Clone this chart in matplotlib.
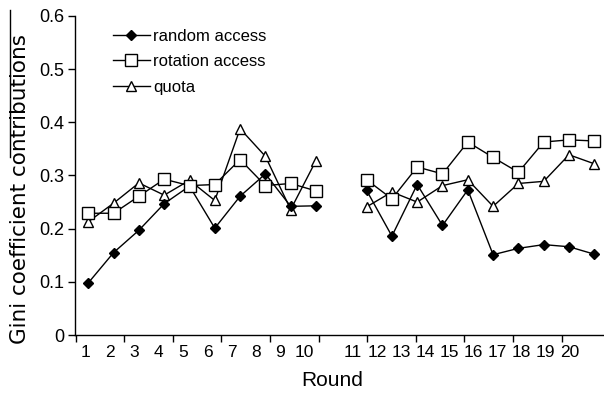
import matplotlib
matplotlib.use("Agg")
import matplotlib.pyplot as plt
from matplotlib.lines import Line2D
from matplotlib import font_manager

rounds = list(range(1, 21))
random_access = [0.098, 0.155, 0.197, 0.247, 0.280, 0.201, 0.261, 0.303, 0.242, 0.243,
                 0.272, 0.186, 0.283, 0.206, 0.273, 0.151, 0.163, 0.170, 0.166, 0.152]
rotation_access = [0.229, 0.229, 0.261, 0.293, 0.281, 0.283, 0.330, 0.281, 0.285, 0.271,
                   0.292, 0.256, 0.316, 0.303, 0.363, 0.334, 0.306, 0.363, 0.367, 0.365]
quota = [0.213, 0.248, 0.286, 0.263, 0.291, 0.253, 0.388, 0.336, 0.236, 0.328,
         0.241, 0.269, 0.250, 0.281, 0.292, 0.242, 0.285, 0.289, 0.339, 0.322]
series_labels = ["random access", "rotation access", "quota"]
y_ticks = [0, 0.1, 0.2, 0.3, 0.4, 0.5, 0.6]
y_tick_labels = ["0", "0.1", "0.2", "0.3", "0.4", "0.5", "0.6"]

names = {f.name for f in font_manager.fontManager.ttflist}
narrow = "Liberation Sans Narrow" if "Liberation Sans Narrow" in names else "Liberation Sans"
plt.rcParams["font.family"] = [narrow, "DejaVu Sans"]

W, H = 604, 395
fig = plt.figure(figsize=(W / 100, H / 100), dpi=100)
ax_l, ax_r, ax_b, ax_t = 75, 603, 335, 16
ax = fig.add_axes([ax_l / W, 1 - ax_b / H, (ax_r - ax_l) / W, (ax_b - ax_t) / H])

# slot positions: rounds 1-10 -> 1..10, gap, rounds 11-20 -> 12..21
xpos = [r if r <= 10 else r + 1 for r in rounds]
p0, step = 88.3, 25.3  # pixel of slot 1, pixel per slot
def px2s(p):
    return 1 + (p - p0) / step

ax.set_xlim(px2s(ax_l), px2s(ax_r))
ax.set_ylim(0, 0.6)

first = slice(0, 10)
second = slice(10, 20)
styles = [
    dict(marker="D", markersize=5.5, markerfacecolor="black", markeredgecolor="black"),
    dict(marker="s", markersize=8, markerfacecolor="white", markeredgecolor="black", markeredgewidth=1.0),
    dict(marker="^", markersize=7, markerfacecolor="white", markeredgecolor="black", markeredgewidth=1.0),
]
data = [random_access, rotation_access, quota]
zs = [3, 4, 2]
for vals, st, lab, z in zip(data, styles, series_labels, zs):
    for sl in (first, second):
        ax.plot(xpos[sl], vals[sl], color="black", linewidth=1.0, zorder=z, clip_on=False, **st)

# legend
handles = [Line2D([], [], color="black", linewidth=1.0, **st) for st in styles]
leg = ax.legend(handles, series_labels, loc="upper left",
                bbox_to_anchor=(113 / W, 1 - 29 / H), bbox_transform=fig.transFigure,
                frameon=False, fontsize=12, handlelength=2.2, handletextpad=0.2,
                labelspacing=0.62, borderpad=0, borderaxespad=0)

# axes styling
for s in ("top", "right"):
    ax.spines[s].set_visible(False)
ax.spines["left"].set_linewidth(1.0)
ax.spines["bottom"].set_linewidth(1.0)

ax.set_yticks(y_ticks)
ax.set_yticklabels(y_tick_labels, fontsize=13)
ax.tick_params(axis="y", direction="out", length=5, width=1, pad=3)

tick_px = [75.7 + k * 48.6 for k in range(11)]
ax.set_xticks([px2s(p) for p in tick_px])
ax.set_xticklabels([])
ax.tick_params(axis="x", which="major", direction="out", length=5, width=1)

label_px = [86 + (r - 1) * 24.3 if r <= 10 else 353 + (r - 11) * 24.05 for r in rounds]
ax.set_xticks([px2s(p) for p in label_px], minor=True)
ax.set_xticklabels([str(r) for r in rounds], minor=True, fontsize=12.5)
ax.tick_params(axis="x", which="minor", length=0, pad=7)

fig.text(332 / W, 1 - 380 / H, "Round", ha="center", va="center", fontsize=15)
fig.text(20.5 / W, 1 - 189 / H, "Gini coefficient contributions", ha="center", va="center",
         rotation=90, fontsize=15.5, family=["DejaVu Sans"])
fig.add_artist(Line2D([9.5 / W, 9.5 / W], [1 - 10 / H, 1 - 157 / H],
                      transform=fig.transFigure, color="black", linewidth=1.0))

fig.savefig("out.png", dpi=100)
